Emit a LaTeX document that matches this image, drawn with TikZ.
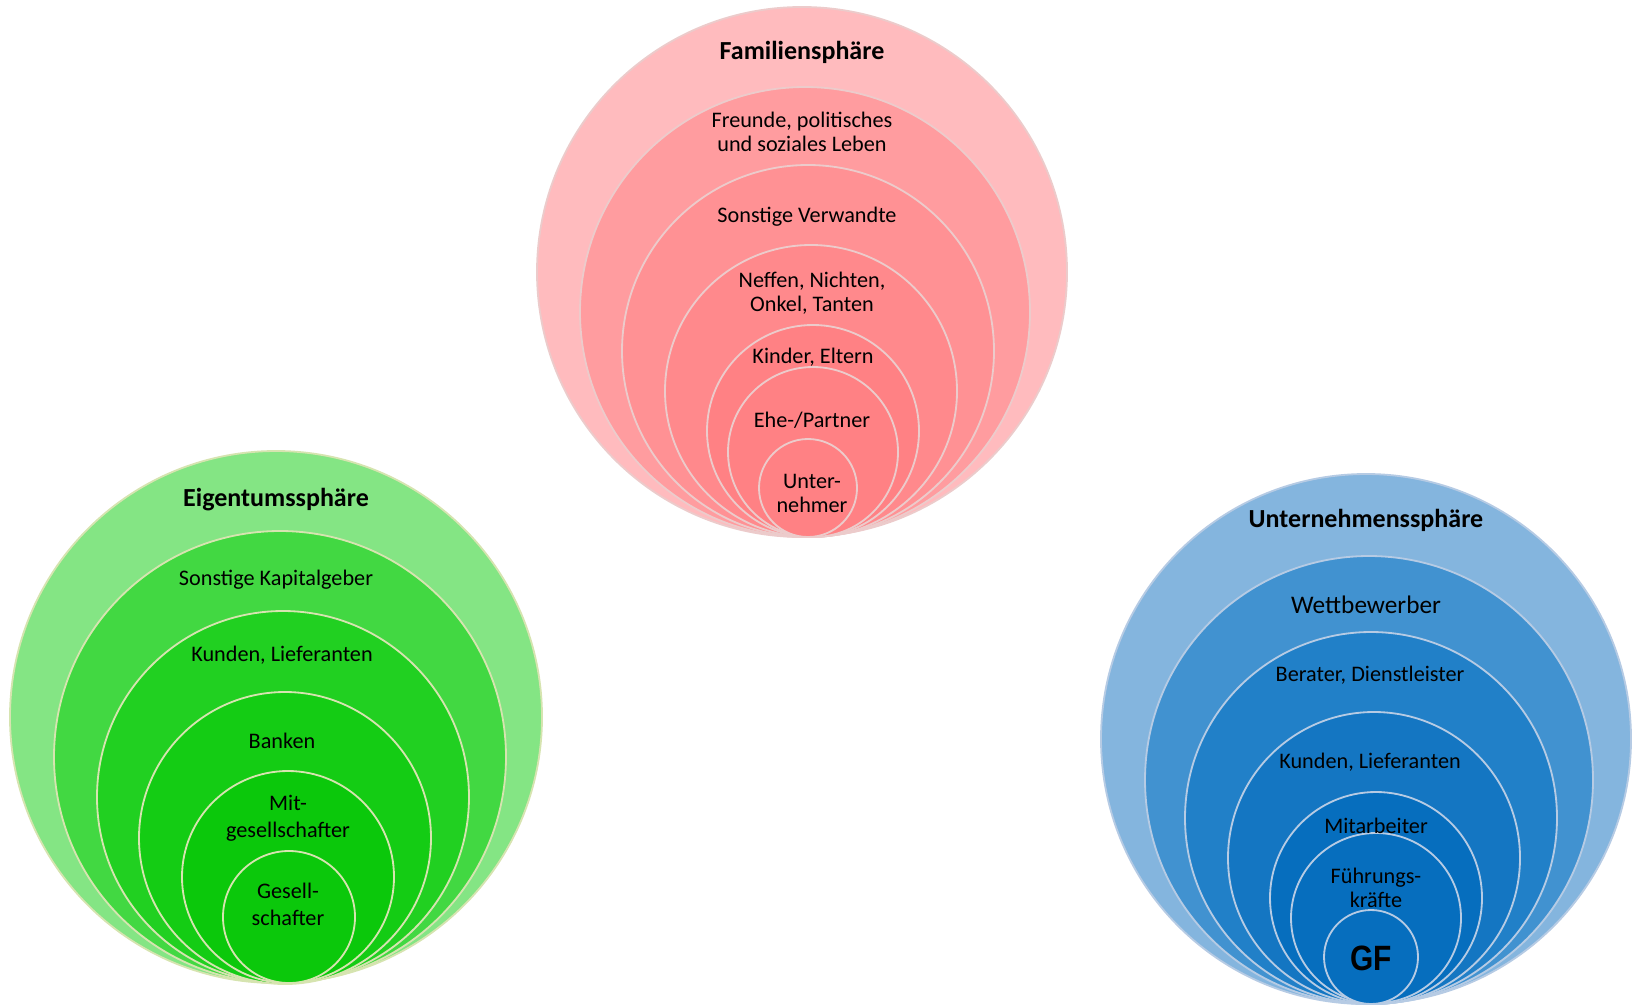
\documentclass[tikz,border=0pt]{standalone}
\usepackage{fontspec}
\setmainfont{Carlito}
\newfontfamily\gffont[FakeStretch=0.85]{Liberation Sans}

\definecolor{famA}{HTML}{FFBBBE}
\definecolor{famB}{HTML}{FF9C9F}
\definecolor{famC}{HTML}{FF9194}
\definecolor{famD}{HTML}{FF898C}
\definecolor{famE}{HTML}{FF8184}
\definecolor{famLine}{HTML}{ECCBCB}
\definecolor{eigA}{HTML}{84E584}
\definecolor{eigB}{HTML}{42D842}
\definecolor{eigC}{HTML}{21D021}
\definecolor{eigD}{HTML}{14CC14}
\definecolor{eigE}{HTML}{0BC80B}
\definecolor{eigLine}{HTML}{D6E4B0}
\definecolor{untA}{HTML}{84B5DE}
\definecolor{untB}{HTML}{4192D0}
\definecolor{untC}{HTML}{2180C8}
\definecolor{untD}{HTML}{1476C2}
\definecolor{untE}{HTML}{066EBE}
\definecolor{untLine}{HTML}{B6CBE4}

\begin{document}
\begin{tikzpicture}[x=0.025cm, y=0.025cm,
	ring/.style={line width=1.3pt},
	txt/.style={align=center, inner sep=0pt, font=\fontsize{15.8}{17}\selectfont},
	head/.style={align=center, inner sep=0pt, font=\fontsize{18.5}{21}\selectfont\bfseries}]

	\useasboundingbox (0,0) rectangle (1635,-1006);

	% Familiensphaere %
	\foreach \x/\y/\r/\c in {802/272/265/famA, 805/312/225/famB, 808/351/186/famC, 811/391/146/famD, 813/431/106/famE, 813/452/85/famE, 808/488/49/famE}
		\draw [ring, draw=famLine, fill=\c] (\x,-\y) circle (\r);
	\node [head] (fam) at (802,-52) {Familiensphäre};
	\node [txt] (freunde) at (802,-132) {Freunde, politisches\\und soziales Leben};
	\node [txt] (verwandte) at (807,-217) {Sonstige Verwandte};
	\node [txt] (neffen) at (812,-293) {Neffen, Nichten,\\Onkel, Tanten};
	\node [txt] (kinder) at (813,-357) {Kinder, Eltern};
	\node [txt] (partner) at (812,-420) {Ehe-/Partner};
	\node [txt] (unternehmer) at (812,-493) {Unter-\\nehmer};

	% Eigentumssphaere %
	\foreach \x/\y/\r/\c in {276/717/266/eigA, 280/757/226/eigB, 283/797/186/eigC, 285/838/146/eigD, 288/877/106/eigE, 289/917/66/eigE}
		\draw [ring, draw=eigLine, fill=\c] (\x,-\y) circle (\r);
	\node [head] (eig) at (276,-500) {Eigentumssphäre};
	\node [txt] (kapital) at (276,-580) {Sonstige Kapitalgeber};
	\node [txt] (kundenE) at (282,-655) {Kunden, Lieferanten};
	\node [txt] (banken) at (282,-741) {Banken};
	\node [txt, font=\fontsize{15.8}{19}\selectfont] (mitges) at (288,-818) {Mit-\\gesellschafter};
	\node [txt, font=\fontsize{15.8}{19}\selectfont] (ges) at (288,-904) {Gesell-\\schafter};

	% Unternehmenssphaere %
	\foreach \x/\y/\r/\c in {1366/739/265/untA, 1369/780/224/untB, 1371/818/186/untC, 1374/858/146/untD, 1376/898/106/untE, 1376/918/85/untE, 1371/957/47/untE}
		\draw [ring, draw=untLine, fill=\c] (\x,-\y) circle (\r);
	\node [head] (unt) at (1366,-520) {Unternehmenssphäre};
	\node [txt, font=\fontsize{18}{21}\selectfont] (wett) at (1366,-605) {Wettbewerber};
	\node [txt] (berater) at (1370,-675) {Berater, Dienstleister};
	\node [txt] (kundenU) at (1370,-762) {Kunden, Lieferanten};
	\node [txt] (mitarb) at (1376,-826) {Mitarbeiter};
	\node [txt] (fuehr) at (1376,-888) {Führungs-\\kräfte};
	\node [txt, font=\gffont\fontsize{25}{27}\selectfont\bfseries] (gf) at (1371,-958) {GF};
\end{tikzpicture}
\end{document}
